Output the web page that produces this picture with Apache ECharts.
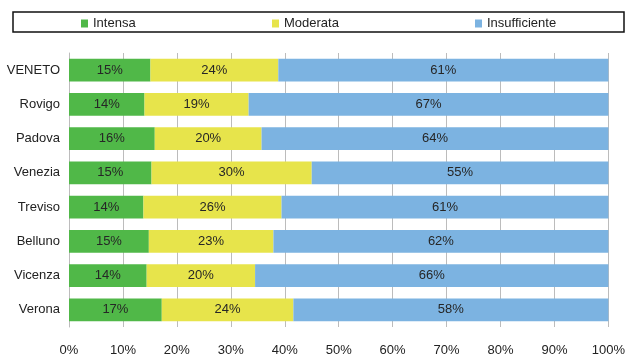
<!DOCTYPE html>
<html><head><meta charset="utf-8">
<script src="https://cdn.jsdelivr.net/npm/echarts@6/dist/echarts.min.js"></script>
<style>html,body{margin:0;padding:0;background:#fff}#c{width:628px;height:358px}</style>
</head><body><div id="c"></div>
<script>
const categories = ['VENETO','Rovigo','Padova','Venezia','Treviso','Belluno','Vicenza','Verona'];
const intensa = [15.1, 14.0, 15.9, 15.3, 13.8, 14.8, 14.4, 17.2];
const moderata = [23.7, 19.3, 19.8, 29.7, 25.6, 23.1, 20.1, 24.4];
const insufficiente = [61.2, 66.7, 64.3, 55.0, 60.6, 62.1, 65.5, 58.4];
const seriesNames = ['Intensa','Moderata','Insufficiente'];
const colors = ['#50b848','#e7e44b','#7cb3e1'];
const xTicks = [0,10,20,30,40,50,60,70,80,90,100];

const font = 'Liberation Sans, Arial, sans-serif';
const chart = echarts.init(document.getElementById('c'), null, {renderer:'canvas'});
const mk = (name, data, color) => ({
  name, type:'bar', stack:'t', data, barCategoryGap:'34%',
  itemStyle:{color},
  label:{show:true, position:'inside', color:'#262626', fontSize:13, fontFamily:font,
    formatter:p=>Math.round(p.value)+'%'},
  emphasis:{disabled:true}
});
const legendLefts = [81, 272, 475];
chart.setOption({
  animation:false,
  textStyle:{fontFamily:font},
  graphic:[{type:'rect', shape:{x:13, y:12, width:611, height:20}, style:{fill:'none', stroke:'#111', lineWidth:1.5}, z:10}],
  legend: seriesNames.map((n,i)=>({
    data:[n], left:legendLefts[i], top:17, padding:0, itemWidth:7, itemHeight:8, itemGap:0, itemTextGap:6,
    icon:'rect', textStyle:{fontSize:13, color:'#222', fontFamily:font}
  })),
  grid:{left:69, right:18, top:53, bottom:31, containLabel:false},
  xAxis:{type:'value', min:0, max:100, interval:10,
    axisLabel:{formatter:v=>xTicks.includes(v)?v+'%':'', fontSize:13, color:'#222', margin:17, fontFamily:font},
    splitLine:{show:true, lineStyle:{color:'#bcbcbc', width:1}},
    axisLine:{show:false}, axisTick:{show:false}},
  yAxis:{type:'category', data:categories, inverse:true,
    axisLabel:{fontSize:13, color:'#222', margin:9, fontFamily:font},
    axisLine:{show:true, lineStyle:{color:'#bcbcbc'}}, axisTick:{show:false}},
  series:[mk(seriesNames[0], intensa, colors[0]), mk(seriesNames[1], moderata, colors[1]), mk(seriesNames[2], insufficiente, colors[2])]
});
</script></body></html>
